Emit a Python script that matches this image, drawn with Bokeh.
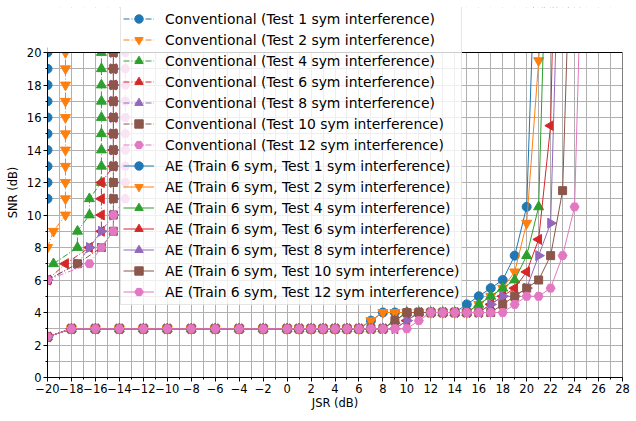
import math
from bokeh.plotting import figure
from bokeh.models import FixedTicker, Legend, LegendItem, Range1d, BoxAnnotation
from bokeh.embed import file_html
from bokeh.resources import INLINE

# ---------------- data ----------------
# Conventional receivers (x = JSR dB, y = SNR dB)
conv1_x = [-20, -20, -20, -20, -20, -20, -20, -20, -20, -20]
conv1_y = [11, 12, 13, 14, 15, 16, 17, 18, 19, 20]

conv2_x = [-20, -19.5, -18.5, -18.5, -18.5, -18.5, -18.5, -18.5, -18.5, -18.5, -18.5, -18.5, -18.5]
conv2_y = [8, 9, 10, 11, 12, 13, 14, 15, 16, 17, 18, 19, 20]

conv4_x = [-19.5, -17.5, -17.5, -16.5, -16.5, -15.5, -15.5, -15.5, -15.5, -15.5, -15.5, -15.5, -15.5, -15.5]
conv4_y = [7, 8, 9, 10, 11, 12, 13, 14, 15, 16, 17, 18, 19, 20]

conv6_x = [-20, -18.5, -16.5, -15.5, -15.5, -15.5, -15.5, -14.5, -14.5, -14.5, -14.5, -14.5, -14.5, -14.5, -14.5]
conv6_y = [6, 7, 8, 9, 10, 11, 12, 13, 14, 15, 16, 17, 18, 19, 20]

conv8_x = [-20, -17.5, -16.5, -15.5, -14.5, -14.5, -14.5, -14.5, -14.5, -14.5, -14.5, -14.5, -14.5, -14.5, -14.5]
conv8_y = [6, 7, 8, 9, 10, 11, 12, 13, 14, 15, 16, 17, 18, 19, 20]

conv10_x = [-20, -17.5, -15.5, -14.5, -14.5, -14.5, -14.5, -14.5, -14.5, -14.5, -14.5, -14.5, -14.5, -14.5, -14.5]
conv10_y = [6, 7, 8, 9, 10, 11, 12, 13, 14, 15, 16, 17, 18, 19, 20]

conv12_x = [-20, -16.5, -15.5, -14.5, -14.5, -13.5, -13.5, -13.5, -13.5, -13.5, -13.5, -13.5, -13.5, -13.5, -13.5]
conv12_y = [6, 7, 8, 9, 10, 11, 12, 13, 14, 15, 16, 17, 18, 19, 20]

# Autoencoder (trained with 6 sym interference), common JSR grid
ae_jsr = [-20, -18, -16, -14, -12, -10, -8, -6, -4, -2, 0, 1, 2, 3, 4, 5, 6, 7, 8, 9,
          10, 11, 12, 13, 14, 15, 16, 17, 18, 19, 20, 21, 22, 23, 24, 25]

ae1_y = [2.5, 3, 3, 3, 3, 3, 3, 3, 3, 3, 3, 3, 3, 3, 3, 3, 3, 3.5, 4, 4,
         4, 4, 4, 4, 4, 4.5, 5, 5.5, 6, 7.5, 10.5, 32]
ae2_y = [2.5, 3, 3, 3, 3, 3, 3, 3, 3, 3, 3, 3, 3, 3, 3, 3, 3, 3.5, 4, 4,
         4, 4, 4, 4, 4, 4, 4.5, 5, 5.5, 6.5, 9.5, 19.5, 30]
ae4_y = [2.5, 3, 3, 3, 3, 3, 3, 3, 3, 3, 3, 3, 3, 3, 3, 3, 3, 3, 3, 3.5,
         4, 4, 4, 4, 4, 4, 4.5, 5, 5.5, 6, 7.5, 10.5, 36]
ae6_y = [2.5, 3, 3, 3, 3, 3, 3, 3, 3, 3, 3, 3, 3, 3, 3, 3, 3, 3, 3, 3,
         3.5, 4, 4, 4, 4, 4, 4, 4.5, 5, 5.5, 6.5, 8.5, 15.5, 50]
ae8_y = [2.5, 3, 3, 3, 3, 3, 3, 3, 3, 3, 3, 3, 3, 3, 3, 3, 3, 3, 3, 3,
         3.5, 4, 4, 4, 4, 4, 4, 4.5, 5, 5, 5.5, 7.5, 9.5, 35]
ae10_y = [2.5, 3, 3, 3, 3, 3, 3, 3, 3, 3, 3, 3, 3, 3, 3, 3, 3, 3, 3, 3.5,
          4, 4, 4, 4, 4, 4, 4, 4, 4.5, 5, 5.5, 6, 7.5, 11.5, 35]
ae12_y = [2.5, 3, 3, 3, 3, 3, 3, 3, 3, 3, 3, 3, 3, 3, 3, 3, 3, 3, 3, 3,
          3, 3.5, 4, 4, 4, 4, 4, 4, 4, 4.5, 5, 5, 5.5, 7.5, 10.5, 37]

test_syms = [1, 2, 4, 6, 8, 10, 12]
x_ticks = list(range(-20, 29, 2))
y_ticks = list(range(0, 21, 2))
X_MIN, X_MAX, Y_MIN, Y_MAX = -20, 28, 0, 20

# ---------------- styling ----------------
colors = ["#1f77b4", "#ff7f0e", "#2ca02c", "#d62728", "#9467bd", "#8c564b", "#e377c2"]
markers = [("circle", 0.0, 9), ("inverted_triangle", 0.0, 10), ("triangle", 0.0, 10),
           ("triangle", math.pi / 2, 10), ("triangle", -math.pi / 2, 10),
           ("square", 0.0, 8), ("hex", 0.0, 9)]
FONT = "DejaVu Sans"

# The frame is extended upward (45 px) so that the legend can sit above the axes box,
# as in the reference; the area above Y_MAX is masked white.
PX_PER_UNIT = 325 / (Y_MAX - Y_MIN)
EXTRA_PX = 45
p = figure(width=630, height=413, output_backend="svg", toolbar_location=None,
           frame_width=575, frame_height=325 + EXTRA_PX,
           min_border_left=47, min_border_right=8, min_border_top=7, min_border_bottom=36,
           x_range=Range1d(X_MIN, X_MAX),
           y_range=Range1d(Y_MIN, Y_MAX + EXTRA_PX / PX_PER_UNIT))

p.background_fill_color = "white"
p.border_fill_color = "white"
p.outline_line_color = None

p.xaxis.ticker = FixedTicker(ticks=x_ticks, minor_ticks=list(range(-20, 29)))
p.yaxis.ticker = FixedTicker(ticks=y_ticks, minor_ticks=list(range(0, 21)))
p.xaxis.major_label_overrides = {t: str(t).replace("-", "\u2212") for t in x_ticks}
p.yaxis.major_label_overrides = {t: str(t) for t in y_ticks}
p.yaxis.bounds = (Y_MIN, Y_MAX)

for ax in (p.xaxis, p.yaxis):
    ax.major_label_text_font = FONT
    ax.major_label_text_font_size = "11.5px"
    ax.major_label_text_color = "black"
    ax.axis_label_text_font = FONT
    ax.axis_label_text_font_size = "11.5px"
    ax.axis_label_text_font_style = "normal"
    ax.axis_label_text_color = "black"
    ax.axis_line_color = "black"
    ax.major_tick_line_color = "black"
    ax.minor_tick_line_color = "black"
    ax.major_tick_out = 4
    ax.major_tick_in = 0
    ax.minor_tick_out = 2
    ax.minor_tick_in = 0
    ax.major_label_standoff = 2
p.xaxis.axis_label = "JSR (dB)"
p.yaxis.axis_label = "SNR (dB)"
p.xaxis.axis_label_standoff = 0
p.yaxis.axis_label_standoff = 4

for g in (p.xgrid, p.ygrid):
    g.grid_line_color = "#b0b0b0"
    g.grid_line_width = 1
    g.minor_grid_line_color = "#b0b0b0"
    g.minor_grid_line_width = 1

items = []
conv_series = [(conv1_x, conv1_y), (conv2_x, conv2_y), (conv4_x, conv4_y), (conv6_x, conv6_y),
               (conv8_x, conv8_y), (conv10_x, conv10_y), (conv12_x, conv12_y)]
for i, (xs, ys) in enumerate(conv_series):
    c = colors[i]
    m, ang, sz = markers[i]
    lr = p.line(xs, ys, line_color=c, line_width=1, line_dash="6 2 1 2")
    sr = p.scatter(xs, ys, marker=m, angle=ang, size=sz, fill_color=c, line_color=c)
    items.append(LegendItem(label=f"Conventional (Test {test_syms[i]} sym interference)",
                            renderers=[lr, sr]))

ae_series = [ae1_y, ae2_y, ae4_y, ae6_y, ae8_y, ae10_y, ae12_y]
for i, ys in enumerate(ae_series):
    c = colors[i]
    m, ang, sz = markers[i]
    xs = ae_jsr[:len(ys)]
    lr = p.line(xs, ys, line_color=c, line_width=1)
    sr = p.scatter(xs, ys, marker=m, angle=ang, size=sz, fill_color=c, line_color=c)
    items.append(LegendItem(label=f"AE (Train 6 sym, Test {test_syms[i]} sym interference)",
                            renderers=[lr, sr]))

# white mask above the axes box, then the black axes box
p.add_layout(BoxAnnotation(bottom=Y_MAX, fill_color="white", fill_alpha=1.0,
                           line_color=None, level="annotation"))
p.add_layout(BoxAnnotation(left=X_MIN, right=X_MAX, bottom=Y_MIN, top=Y_MAX,
                           fill_alpha=0.0, fill_color=None, line_color="black",
                           line_width=1, line_alpha=1.0, level="annotation"))

legend = Legend(items=items, location=(73, 72))
legend.label_text_font = FONT
legend.label_text_font_size = "13.9px"
legend.label_text_color = "black"
legend.glyph_width = 31
legend.glyph_height = 21
legend.label_height = 18
legend.label_standoff = 11
legend.spacing = 0
legend.padding = 2
legend.margin = 0
legend.background_fill_color = "white"
legend.background_fill_alpha = 0.8
legend.border_line_color = "#cccccc"
legend.border_line_width = 1
p.add_layout(legend, "center")

open("out.html", "w").write(file_html(p, INLINE))
